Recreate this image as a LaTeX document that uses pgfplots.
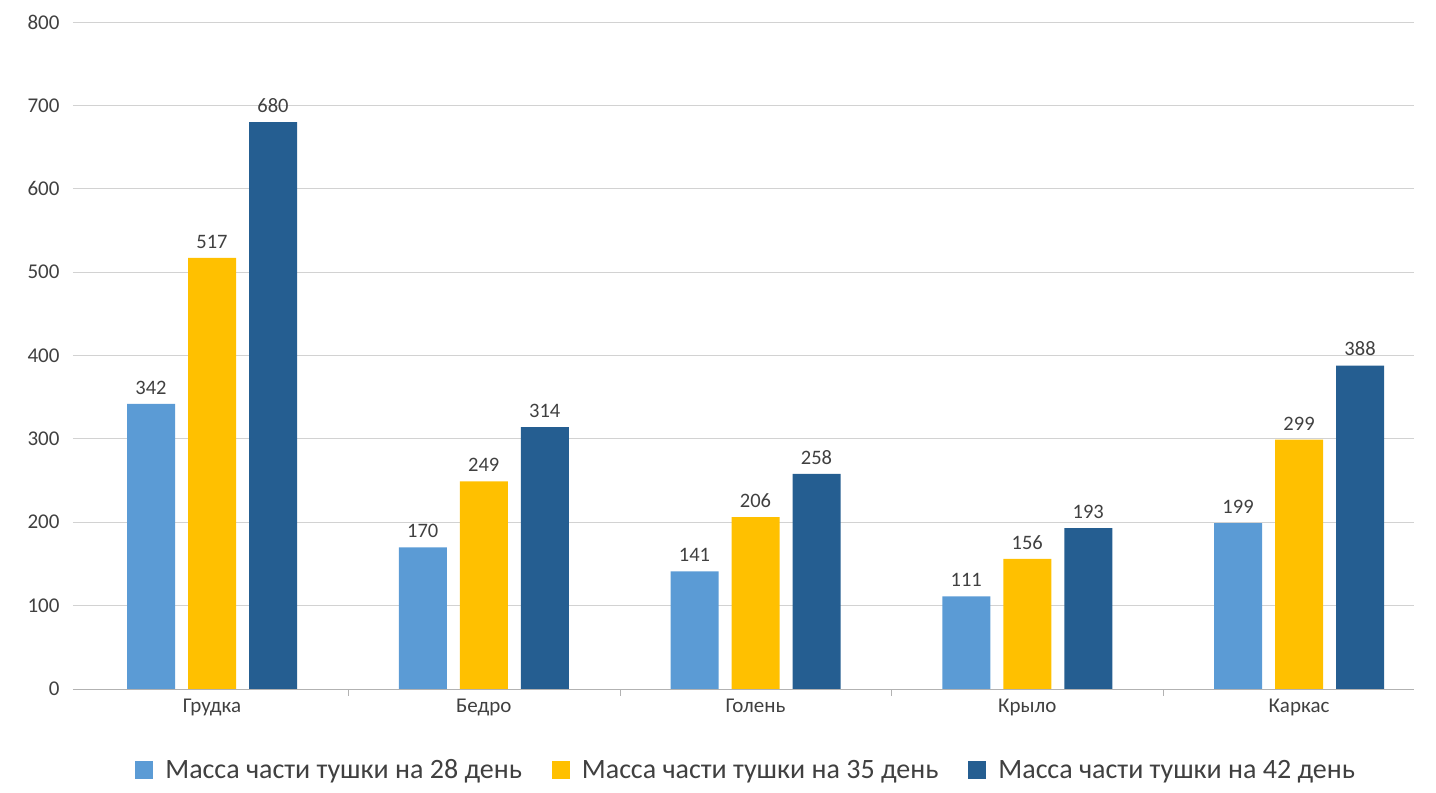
\documentclass[border=0pt]{standalone}
\usepackage{pgfplots}
\pgfplotsset{compat=1.18}
\usepackage{fontspec}
\setmainfont{Carlito}
\definecolor{cA}{HTML}{5B9BD5}
\definecolor{cB}{HTML}{FFC000}
\definecolor{cC}{HTML}{255E91}
\definecolor{tx}{HTML}{404040}
\begin{document}
\begin{tikzpicture}
\useasboundingbox (0,0) rectangle (1436pt,793pt);
\begin{axis}[at={(73pt,104pt)},anchor=south west,
 scale only axis, width=1341pt, height=667pt,
 ybar=13pt, bar width=48pt,
 xmin=-0.5115, xmax=4.423, ymin=0, ymax=800,
 xtick={0,1,2,3,4}, xticklabels={Грудка,Бедро,Голень,Крыло,Каркас},
 minor xtick={0.5,1.5,2.5,3.5},
 major tick length=0pt, minor tick length=7pt, tick align=outside,
 minor tick style={draw=gray!60},
 ytick={0,100,...,800},
 ymajorgrids, grid style={draw=gray!35, line width=0.8pt},
 axis y line=left, axis x line*=bottom,
 y axis line style={draw=none},
 x axis line style={draw=gray!60, line width=0.8pt, -},
 /pgf/number format/assume math mode=true,
 ticklabel style={font=\fontsize{21}{24}\selectfont, text=tx},
 yticklabel style={xshift=-10pt},
 xticklabel style={yshift=-6pt},
 nodes near coords, nodes near coords style={font=\fontsize{20.5}{24}\selectfont, text=tx, yshift=6pt},
 legend style={at={(0.502,-0.121)}, anchor=center, draw=none, legend columns=3,
   font=\fontsize{28}{32}\selectfont, text=tx, /tikz/every even column/.append style={column sep=28pt}},
 legend image code/.code={\fill[#1] (-4pt,-9pt) rectangle (14pt,9pt);},
]
\addplot[fill=cA, draw=none] coordinates {(0,342)(1,170)(2,141)(3,111)(4,199)};
\addplot[fill=cB, draw=none] coordinates {(0,517)(1,249)(2,206)(3,156)(4,299)};
\addplot[fill=cC, draw=none] coordinates {(0,680)(1,314)(2,258)(3,193)(4,388)};
\legend{\hspace{10pt}Масса части тушки на 28 день,\hspace{10pt}Масса части тушки на 35 день,\hspace{10pt}Масса части тушки на 42 день}
\end{axis}
\end{tikzpicture}
\end{document}
